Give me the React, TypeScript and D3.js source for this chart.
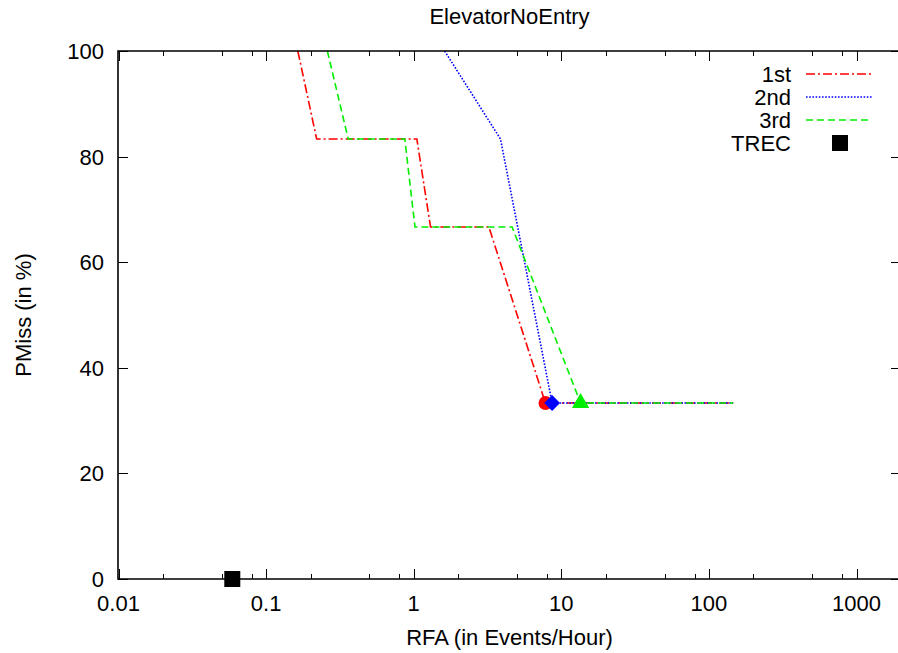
import React, { useEffect, useRef } from 'react';
import * as d3 from 'd3';

// DET points (RFA in events/hour, PMiss in %)
const seriesNames = ['1st', '2nd', '3rd'];
const seriesColors = ['#ff0000', '#0000ff', '#00ee00'];
const seriesDashes = ['9,3,2,3', '1.6,1.6', '7,4'];

const rfa1st = [0.164, 0.22, 1.05, 1.3, 3.23, 7.8, 146];
const pmiss1st = [100, 83.33, 83.33, 66.67, 66.67, 33.33, 33.33];
const rfa2nd = [1.62, 3.87, 8.66, 146];
const pmiss2nd = [100, 83.33, 33.33, 33.33];
const rfa3rd = [0.26, 0.36, 0.87, 1.02, 4.64, 13.5, 146];
const pmiss3rd = [100, 83.33, 83.33, 66.67, 66.67, 33.33, 33.33];

// decision points (one marker per run)
const markerRfa = [7.8, 8.66, 13.5];
const markerPmiss = [33.33, 33.33, 33.33];
const markerShapes = [d3.symbolCircle, d3.symbolDiamond2 || d3.symbolDiamond, d3.symbolTriangle];

const trecRfa = [0.059];
const trecPmiss = [0];

const xTickValues = [0.01, 0.1, 1, 10, 100, 1000];
const xTickLabels = ['0.01', '0.1', '1', '10', '100', '1000'];
const yTickValues = [0, 20, 40, 60, 80, 100];

const FONT = '"Liberation Sans", Arial, Helvetica, sans-serif';

const App = () => {
  const svgRef = useRef<SVGSVGElement>(null);

  useEffect(() => {
    const svg = d3.select(svgRef.current);
    svg.selectAll('*').remove();

    const width = 898;
    const height = 653;
    const left = 118, right = 901, top = 51, bottom = 579;

    const x = d3.scaleLog().domain([0.01, 2000]).range([left + 0.5, right]);
    const y = d3.scaleLinear().domain([0, 100]).range([bottom, top]);

    svg.attr('width', width).attr('height', height)
      .style('font-family', FONT);

    // title
    svg.append('text')
      .attr('x', (left + right) / 2).attr('y', 24)
      .attr('text-anchor', 'middle').style('font-size', '22px')
      .text('ElevatorNoEntry');

    // minor + major x ticks (bottom and top, pointing inward)
    const minors: number[] = [];
    for (let e = -2; e <= 3; e++) {
      [2, 5, 8].forEach(m => {
        const v = m * Math.pow(10, e);
        if (v < 2000) minors.push(v);
      });
    }
    const ticks = svg.append('g').attr('stroke', '#000').attr('stroke-width', 1);
    minors.forEach(v => {
      const px = Math.round(x(v)) + 0.5;
      ticks.append('line').attr('x1', px).attr('x2', px).attr('y1', bottom).attr('y2', bottom - 5);
      ticks.append('line').attr('x1', px).attr('x2', px).attr('y1', top).attr('y2', top + 5);
    });
    xTickValues.forEach(v => {
      const px = Math.round(x(v)) + 0.5;
      ticks.append('line').attr('x1', px).attr('x2', px).attr('y1', bottom).attr('y2', bottom - 10);
      ticks.append('line').attr('x1', px).attr('x2', px).attr('y1', top).attr('y2', top + 10);
    });
    yTickValues.forEach(v => {
      const py = Math.round(y(v)) + 0.5;
      ticks.append('line').attr('x1', left).attr('x2', left + 10).attr('y1', py).attr('y2', py);
      ticks.append('line').attr('x1', right - 10).attr('x2', right).attr('y1', py).attr('y2', py);
    });

    // tick labels
    xTickValues.forEach((v, i) => {
      svg.append('text')
        .attr('x', x(v)).attr('y', 611)
        .attr('text-anchor', 'middle').style('font-size', '22px')
        .text(xTickLabels[i]);
    });
    yTickValues.forEach(v => {
      svg.append('text')
        .attr('x', 104).attr('y', y(v)).attr('dy', '0.36em')
        .attr('text-anchor', 'end').style('font-size', '22px')
        .text(String(v));
    });

    // axis labels
    svg.append('text')
      .attr('x', (left + right) / 2).attr('y', 645)
      .attr('text-anchor', 'middle').style('font-size', '22px')
      .text('RFA (in Events/Hour)');
    svg.append('text')
      .attr('transform', `translate(31,${(top + bottom) / 2}) rotate(-90)`)
      .attr('text-anchor', 'middle').style('font-size', '22px')
      .text('PMiss (in %)');

    // series lines
    const runs = [
      rfa1st.map((r, i) => [r, pmiss1st[i]]),
      rfa2nd.map((r, i) => [r, pmiss2nd[i]]),
      rfa3rd.map((r, i) => [r, pmiss3rd[i]]),
    ];
    const line = d3.line<number[]>().x(d => x(d[0])).y(d => y(d[1]));
    runs.forEach((pts, i) => {
      svg.append('path')
        .datum(pts)
        .attr('fill', 'none')
        .attr('stroke', seriesColors[i])
        .attr('stroke-width', 1.6)
        .attr('stroke-dasharray', seriesDashes[i])
        .attr('d', line);
    });

    // border (left, bottom, top; right edge sits just past the page)
    svg.append('path')
      .attr('fill', 'none').attr('stroke', '#000').attr('stroke-width', 1.6)
      .attr('d', `M${right},${top}H${left}V${bottom}H${right}`);

    // decision markers
    const symbolSizes = [150, 160, 130];
    markerRfa.forEach((r, i) => {
      svg.append('path')
        .attr('d', d3.symbol().type(markerShapes[i]).size(symbolSizes[i])())
        .attr('transform', `translate(${x(r)},${y(markerPmiss[i])})`)
        .attr('fill', seriesColors[i]);
    });

    // TREC point
    trecRfa.forEach((r, i) => {
      svg.append('rect')
        .attr('x', x(r) - 8).attr('y', y(trecPmiss[i]) - 8)
        .attr('width', 16).attr('height', 16)
        .attr('fill', '#000');
    });

    // legend
    const legendTextX = 791;
    const legendY = [74, 97, 120, 143];
    seriesNames.forEach((name, i) => {
      svg.append('text')
        .attr('x', legendTextX).attr('y', legendY[i]).attr('dy', '0.36em')
        .attr('text-anchor', 'end').style('font-size', '22px')
        .text(name);
      svg.append('line')
        .attr('x1', 806).attr('x2', 872)
        .attr('y1', legendY[i]).attr('y2', legendY[i])
        .attr('stroke', seriesColors[i]).attr('stroke-width', 1.6)
        .attr('stroke-dasharray', seriesDashes[i]);
    });
    svg.append('text')
      .attr('x', legendTextX).attr('y', legendY[3]).attr('dy', '0.36em')
      .attr('text-anchor', 'end').style('font-size', '22px')
      .text('TREC');
    svg.append('rect')
      .attr('x', 832).attr('y', legendY[3] - 8)
      .attr('width', 16).attr('height', 16).attr('fill', '#000');
  }, []);

  return (
    <div style={{ position: 'absolute', left: 0, top: 0, width: 898, height: 653, overflow: 'hidden', background: '#fff' }}>
      <svg ref={svgRef} style={{ display: 'block' }} />
    </div>
  );
};

export default App;
